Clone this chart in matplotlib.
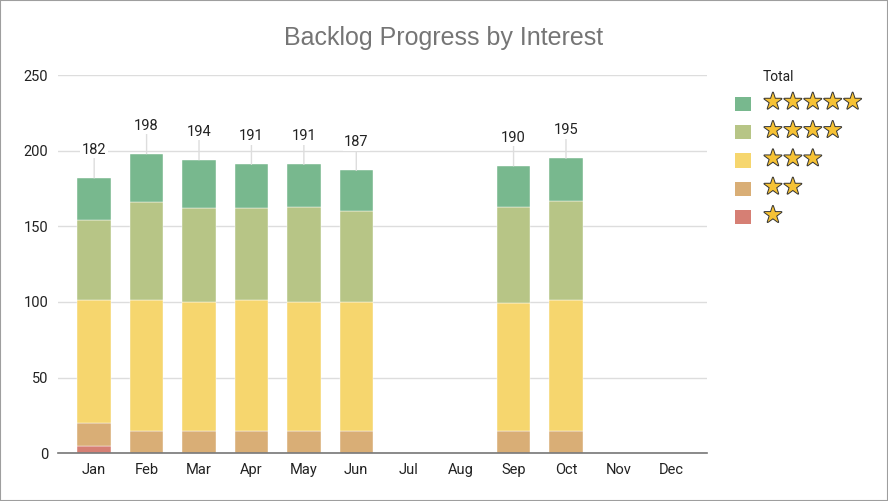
import numpy as np
import matplotlib
matplotlib.use('Agg')
from matplotlib import pyplot as plt
from matplotlib.patches import Patch, Rectangle
from matplotlib.lines import Line2D
from matplotlib import patheffects as pe

months = ['Jan', 'Feb', 'Mar', 'Apr', 'May', 'Jun',
          'Jul', 'Aug', 'Sep', 'Oct', 'Nov', 'Dec']
nan = np.nan
# counts per rating, stacked bottom -> top
one_star = [5, 0, 0, 0, 0, 0, nan, nan, 0, 0, nan, nan]
two_star = [15, 15, 15, 15, 15, 15, nan, nan, 15, 15, nan, nan]
three_star = [81, 86, 85, 86, 85, 85, nan, nan, 84, 86, nan, nan]
four_star = [53, 65, 62, 61, 63, 60, nan, nan, 64, 66, nan, nan]
five_star = [28, 32, 32, 29, 28, 27, nan, nan, 27, 28, nan, nan]

series = [one_star, two_star, three_star, four_star, five_star]
labels = ['★', '★★', '★★★', '★★★★', '★★★★★']
colors = ['#d67f74', '#d9ae76', '#f6d66e', '#b7c586', '#78b88e']

plt.rcParams['font.family'] = ['Roboto', 'DejaVu Sans']
plt.rcParams['font.size'] = 10

fig = plt.figure(figsize=(8.88, 5.01), dpi=100)
ax = fig.add_axes([58/888, 1 - 453.3/501, 649/888, (453.3 - 75)/501])

x = np.arange(len(months))
bottom = np.zeros(len(months))
for vals, col in zip(series, colors):
    v = np.array(vals, dtype=float)
    ax.bar(x, v, width=0.64, bottom=bottom, color=col,
           edgecolor='white', linewidth=0.3, zorder=3)
    bottom = bottom + np.nan_to_num(v)

totals = np.nansum(np.array(series, dtype=float), axis=0)
has_data = ~np.isnan(np.array(one_star, dtype=float))
for xi, t, ok in zip(x, totals, has_data):
    if not ok:
        continue
    ax.annotate('{:.0f}'.format(t), xy=(xi, t), xytext=(0, 28),
                textcoords='offset pixels', ha='center', va='center',
                fontsize=10.5, color='#222222', zorder=5,
                bbox=dict(fc='white', ec='none', pad=1),
                arrowprops=dict(arrowstyle='-', color='#dddddd', lw=1,
                                shrinkA=0, shrinkB=0))

ax.set_xlim(-0.69, 11.69)
ax.set_ylim(0, 250)
ax.set_yticks([0, 50, 100, 150, 200, 250])
ax.set_xticks(x)
ax.set_xticklabels(months)
ax.grid(axis='y', color='#dddddd', lw=1, zorder=0)
ax.set_axisbelow(True)
for s in ['top', 'right', 'left']:
    ax.spines[s].set_visible(False)
ax.spines['bottom'].set_color('#777777')
ax.spines['bottom'].set_linewidth(1.2)
ax.spines['bottom'].set_zorder(4)
ax.tick_params(axis='both', length=0, labelsize=10.5, labelcolor='#222222')
ax.tick_params(axis='y', pad=7)
ax.tick_params(axis='x', pad=7)

fig.text(0.5, 1 - 38/501, 'Backlog Progress by Interest', ha='center',
         va='center', fontsize=18, color='#757575',
         family=['Liberation Sans', 'DejaVu Sans'])

handles = [Line2D([], [], color='none')]
handles += [Patch(facecolor=c, edgecolor='none') for c in colors[::-1]]
leg_labels = ['Total'] + labels[::-1]
leg = fig.legend(handles, leg_labels, loc='upper left',
                 bbox_to_anchor=(722/888, 1 - 57/501), frameon=False,
                 handlelength=1.2, handleheight=1.2, handletextpad=0.85,
                 labelspacing=0.6, fontsize=10)
for t in leg.get_texts()[1:]:
    t.set_color('#f6c235')
    t.set_fontsize(16)
    t.set_family(['DejaVu Sans'])
    t.set_path_effects([pe.withStroke(linewidth=1.4, foreground='#333333')])
leg.get_texts()[0].set_color('#222222')

fig.patches.append(Rectangle((0, 0), 1, 1, transform=fig.transFigure,
                             fill=False, edgecolor='#9e9e9e', lw=1.5))

plt.savefig('out.png', dpi=100)
